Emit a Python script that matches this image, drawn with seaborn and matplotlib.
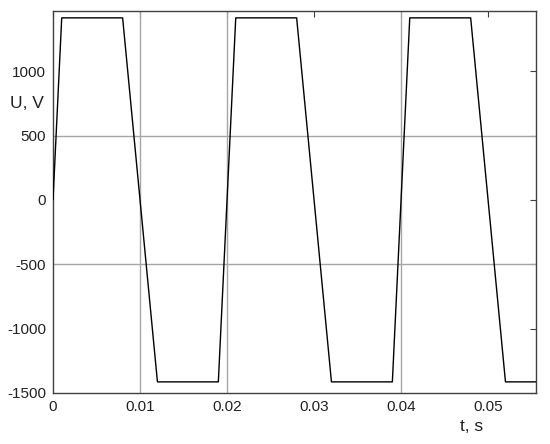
import numpy as np
import pandas as pd
import matplotlib
matplotlib.use("Agg")
import matplotlib.pyplot as plt
import seaborn as sns

# breakpoints of the trapezoidal voltage
t_s = [0, 0.001, 0.008, 0.012, 0.019, 0.021, 0.028, 0.032, 0.039, 0.041, 0.048, 0.052, 0.059]
u_v = [0, 1414, 1414, -1414, -1414, 1414, 1414, -1414, -1414, 1414, 1414, -1414, -1414]

x_ticks = [0, 0.01, 0.02, 0.03, 0.04, 0.05]
x_tick_labels = ["0", "0.01", "0.02", "0.03", "0.04", "0.05"]
y_ticks = [-1500, -1000, -500, 0, 500, 1000]
grid_x = [0.01, 0.02, 0.04]
grid_y = [-500, 500]

df = pd.DataFrame({"t": t_s, "u": u_v})

sns.set_style("white")
plt.rcParams["font.family"] = ["Liberation Sans", "DejaVu Sans"]
plt.rcParams["axes.unicode_minus"] = False

fig = plt.figure(figsize=(5.5, 4.44), dpi=100)
ax = fig.add_axes([0.0964, 0.115, 0.878, 0.861])

for gx in grid_x:
    ax.axvline(gx, color="#a6a6a6", lw=1.0, zorder=1)
for gy in grid_y:
    ax.axhline(gy, color="#a6a6a6", lw=1.0, zorder=1)

sns.lineplot(data=df, x="t", y="u", sort=False, color="black", lw=1.0, ax=ax, zorder=3)

ax.set_xlim(0, 0.0555)
ax.set_ylim(-1500, 1470)
ax.set_xticks(x_ticks)
ax.set_xticklabels(x_tick_labels)
ax.set_yticks(y_ticks)
ax.tick_params(direction="in", top=True, right=True, length=4, width=0.8,
               color="#404040", labelsize=11, labelcolor="#222222", pad=5)
for s in ax.spines.values():
    s.set_color("#404040")
    s.set_linewidth(1.0)

ax.set_xlabel("")
ax.set_ylabel("")
fig.text(10 / 550, 1 - 103 / 444, "U, V", fontsize=12.5, va="center", ha="left", color="#222222")
fig.text(472 / 550, 1 - 426 / 444, "t, s", fontsize=12.5, va="center", ha="center", color="#222222")

fig.savefig("out.png", dpi=100)
